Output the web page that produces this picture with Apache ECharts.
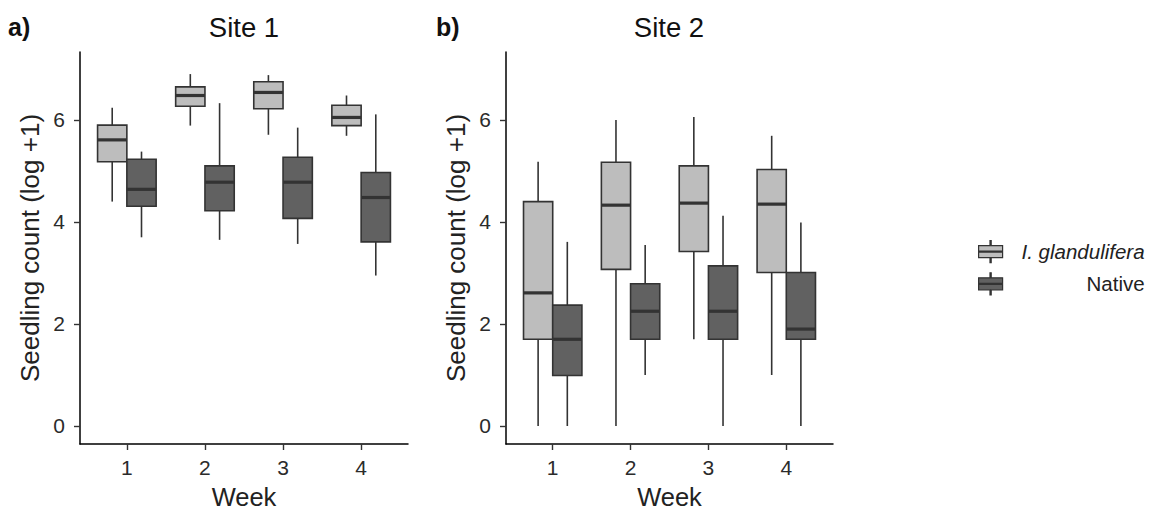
<!DOCTYPE html>
<html>
<head>
<meta charset="utf-8">
<script src="https://cdn.jsdelivr.net/npm/echarts@6/dist/echarts.min.js"></script>
<style>
html,body{margin:0;padding:0;background:#fff;}
#chart{width:1151px;height:511px;}
</style>
</head>
<body>
<div id="chart"></div>
<script>
// ---- data (boxplot stats: [lower whisker, Q1, median, Q3, upper whisker]) ----
var weeks = [1, 2, 3, 4];
var weekLabels = ['1', '2', '3', '4'];
var yTicks = [0, 2, 4, 6];
var groupNames = ['I. glandulifera', 'Native'];
var panelTitles = ['Site 1', 'Site 2'];
var panelTags = ['a)', 'b)'];

var site1Glandulifera = [
  [4.40, 5.18, 5.61, 5.90, 6.24],
  [5.89, 6.27, 6.48, 6.65, 6.90],
  [5.71, 6.22, 6.54, 6.75, 6.88],
  [5.69, 5.89, 6.05, 6.29, 6.48]
];
var site1Native = [
  [3.70, 4.31, 4.64, 5.23, 5.38],
  [3.65, 4.22, 4.78, 5.10, 6.33],
  [3.57, 4.07, 4.78, 5.27, 5.85],
  [2.95, 3.61, 4.48, 4.97, 6.11]
];
var site2Glandulifera = [
  [0.00, 1.70, 2.61, 4.40, 5.18],
  [0.00, 3.07, 4.33, 5.17, 6.00],
  [1.70, 3.42, 4.37, 5.10, 6.06],
  [1.00, 3.01, 4.35, 5.03, 5.69]
];
var site2Native = [
  [0.00, 0.99, 1.70, 2.37, 3.61],
  [1.00, 1.70, 2.25, 2.79, 3.55],
  [0.00, 1.70, 2.25, 3.14, 4.12],
  [0.00, 1.70, 1.90, 3.01, 3.99]
];

// ---- styling ----
var FONT = "'Liberation Sans', Arial, Helvetica, sans-serif";
var LIGHT = '#bdbdbd';
var DARK = '#616161';
var EDGE = '#333333';
var HALF = 0.1875; // half box width in week units (dodge 0.75 / 2 groups / 2)

function rows(stats) {
  return weeks.map(function (w, i) { return [w].concat(stats[i]); });
}

function boxSeries(name, stats, gridIdx, offset, fill) {
  return {
    type: 'custom',
    name: name,
    xAxisIndex: gridIdx,
    yAxisIndex: gridIdx,
    itemStyle: { color: fill, borderColor: EDGE },
    encode: { x: 0, y: [1, 2, 3, 4, 5] },
    data: rows(stats),
    renderItem: function (params, api) {
      var cx = api.value(0) + offset;
      var lo = api.value(1), q1 = api.value(2), med = api.value(3), q3 = api.value(4), hi = api.value(5);
      var tl = api.coord([cx - HALF, q3]);
      var br = api.coord([cx + HALF, q1]);
      var mL = api.coord([cx - HALF, med]);
      var mR = api.coord([cx + HALF, med]);
      var pHi = api.coord([cx, hi]);
      var pQ3 = api.coord([cx, q3]);
      var pQ1 = api.coord([cx, q1]);
      var pLo = api.coord([cx, lo]);
      var lineStyle = { stroke: EDGE, lineWidth: 1.6 };
      return {
        type: 'group',
        children: [
          { type: 'line', shape: { x1: pHi[0], y1: pHi[1], x2: pQ3[0], y2: pQ3[1] }, style: lineStyle },
          { type: 'line', shape: { x1: pQ1[0], y1: pQ1[1], x2: pLo[0], y2: pLo[1] }, style: lineStyle },
          { type: 'rect', shape: { x: tl[0], y: tl[1], width: br[0] - tl[0], height: br[1] - tl[1] },
            style: { fill: fill, stroke: EDGE, lineWidth: 1.6 } },
          { type: 'line', shape: { x1: mL[0], y1: mL[1], x2: mR[0], y2: mR[1] },
            style: { stroke: EDGE, lineWidth: 3.2 } }
        ]
      };
    }
  };
}

var grids = [
  { left: 80, top: 52, width: 328, height: 392, outerBoundsMode: 'none', containLabel: false },
  { left: 506, top: 52, width: 327, height: 392, outerBoundsMode: 'none', containLabel: false }
];

function xAxisFor(i) {
  return {
    type: 'value', gridIndex: i, min: 0.4, max: 4.6,
    name: 'Week', nameLocation: 'middle', nameGap: 40,
    nameTextStyle: { fontFamily: FONT, fontSize: 25.5, color: '#222' },
    axisLine: { show: true, onZero: false, lineStyle: { color: '#000', width: 1.5 } },
    axisTick: { show: true, length: 6, customValues: weeks, lineStyle: { color: '#333', width: 1.4 } },
    axisLabel: { customValues: weeks, margin: 13, fontFamily: FONT, fontSize: 21, color: '#2b2b2b',
      formatter: function (v) { return weekLabels[weeks.indexOf(v)]; } },
    splitLine: { show: false }
  };
}
function yAxisFor(i) {
  return {
    type: 'value', gridIndex: i, min: -0.353, max: 7.333,
    name: 'Seedling count (log +1)', nameLocation: 'middle', nameGap: 37,
    nameTextStyle: { fontFamily: FONT, fontSize: 26, color: '#222' },
    axisLine: { show: true, onZero: false, lineStyle: { color: '#000', width: 1.5 } },
    axisTick: { show: true, length: 6, customValues: yTicks, lineStyle: { color: '#333', width: 1.4 } },
    axisLabel: { customValues: yTicks, margin: 15, fontFamily: FONT, fontSize: 21, color: '#2b2b2b' },
    splitLine: { show: false }
  };
}

var boxIcon = 'path://M11.4,0 L12.6,0 L12.6,5 L11.4,5 Z M0,5 L24,5 L24,17 L0,17 Z M0,10.5 L24,10.5 L24,11.5 L0,11.5 Z M11.4,17 L12.6,17 L12.6,22 L11.4,22 Z';

var option = {
  animation: false,
  backgroundColor: '#ffffff',
  title: [
    { text: panelTags[0], left: 8, top: 14, padding: 0, textStyle: { fontFamily: FONT, fontSize: 25, fontWeight: 'bold', color: '#111' } },
    { text: panelTitles[0], left: 244, top: 13, padding: 0, textAlign: 'center', textStyle: { fontFamily: FONT, fontSize: 27.5, fontWeight: 'normal', color: '#111' } },
    { text: panelTags[1], left: 436, top: 14, padding: 0, textStyle: { fontFamily: FONT, fontSize: 25, fontWeight: 'bold', color: '#111' } },
    { text: panelTitles[1], left: 669, top: 13, padding: 0, textAlign: 'center', textStyle: { fontFamily: FONT, fontSize: 27.5, fontWeight: 'normal', color: '#111' } }
  ],
  legend: {
    orient: 'vertical', left: 978, top: 240, padding: 0,
    itemWidth: 24, itemHeight: 22, itemGap: 9,
    data: [
      { name: groupNames[0], icon: boxIcon, itemStyle: { color: LIGHT, borderColor: EDGE, borderWidth: 1.2 } },
      { name: groupNames[1], icon: boxIcon, itemStyle: { color: DARK, borderColor: EDGE, borderWidth: 1.2 } }
    ],
    formatter: function (name) {
      return name === groupNames[0] ? '{it|' + name + '}' : '{n|' + name + '}';
    },
    textStyle: {
      fontFamily: FONT, fontSize: 20.5, color: '#222',
      rich: {
        it: { fontFamily: FONT, fontSize: 20.5, fontStyle: 'italic', color: '#222', width: 137, align: 'right' },
        n: { fontFamily: FONT, fontSize: 20.5, color: '#222', width: 137, align: 'right' }
      }
    }
  },
  grid: grids,
  xAxis: [xAxisFor(0), xAxisFor(1)],
  yAxis: [yAxisFor(0), yAxisFor(1)],
  series: [
    boxSeries(groupNames[0], site1Glandulifera, 0, -HALF, LIGHT),
    boxSeries(groupNames[1], site1Native, 0, HALF, DARK),
    boxSeries(groupNames[0], site2Glandulifera, 1, -HALF, LIGHT),
    boxSeries(groupNames[1], site2Native, 1, HALF, DARK)
  ]
};

var chart = echarts.init(document.getElementById('chart'), null, { renderer: 'svg' });
chart.setOption(option);
</script>
</body>
</html>
